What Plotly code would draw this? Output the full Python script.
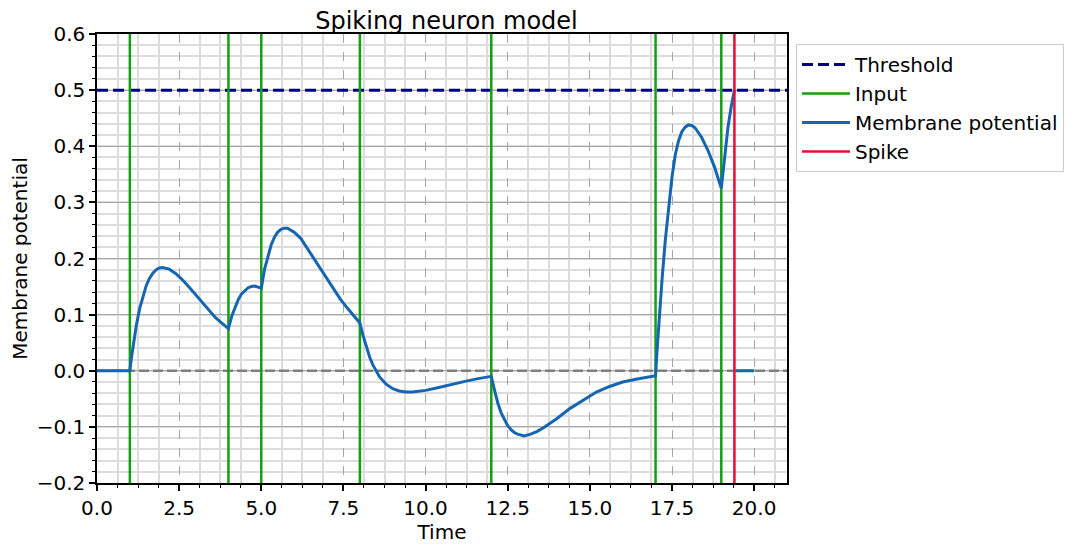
import plotly.graph_objects as go

# membrane potential
time = [0.0, 1.0, 1.05, 1.1, 1.2, 1.3, 1.4, 1.5, 1.6, 1.7, 1.8, 1.9, 2.0,
        2.2, 2.4, 2.6, 2.8, 3.0, 3.2, 3.4, 3.6, 3.8, 4.0,
        4.1, 4.2, 4.3, 4.4, 4.5, 4.6, 4.7, 4.8, 4.9, 5.0,
        5.1, 5.2, 5.3, 5.4, 5.5, 5.6, 5.7, 5.8, 5.9, 6.0,
        6.2, 6.4, 6.6, 6.8, 7.0, 7.2, 7.4, 7.6, 7.8, 8.0,
        8.1, 8.2, 8.3, 8.4, 8.5, 8.6, 8.8, 9.0, 9.2, 9.4, 9.6, 9.8, 10.0,
        10.4, 10.8, 11.2, 11.6, 12.0,
        12.1, 12.2, 12.3, 12.4, 12.5, 12.6, 12.7, 12.8, 13.0, 13.2, 13.4,
        13.6, 13.8, 14.0, 14.4, 14.8, 15.2, 15.6, 16.0, 16.4, 16.8, 17.0,
        17.05, 17.1, 17.2, 17.3, 17.4, 17.5, 17.6, 17.7, 17.8, 17.9, 18.0,
        18.1, 18.2, 18.4, 18.6, 18.8, 19.0,
        19.1, 19.2, 19.3, 19.4, None, 19.45, 20.0]
potential = [0.0, 0.0, 0.024, 0.045, 0.082, 0.111, 0.134, 0.152, 0.165, 0.174, 0.180, 0.183, 0.184,
             0.181, 0.173, 0.162, 0.149, 0.135, 0.122, 0.108, 0.095, 0.085, 0.075,
             0.097, 0.114, 0.127, 0.137, 0.143, 0.148, 0.150, 0.151, 0.149, 0.147,
             0.181, 0.205, 0.224, 0.238, 0.247, 0.252, 0.254, 0.254, 0.251, 0.247,
             0.236, 0.218, 0.200, 0.181, 0.163, 0.146, 0.128, 0.113, 0.098, 0.085,
             0.062, 0.041, 0.024, 0.010, -0.002, -0.011, -0.024, -0.032, -0.036, -0.038, -0.038, -0.037, -0.035,
             -0.030, -0.024, -0.019, -0.014, -0.010,
             -0.035, -0.058, -0.075, -0.088, -0.098, -0.105, -0.110, -0.113, -0.116, -0.113, -0.108,
             -0.101, -0.093, -0.085, -0.067, -0.052, -0.038, -0.028, -0.020, -0.015, -0.011, -0.009,
             0.040, 0.085, 0.165, 0.235, 0.295, 0.345, 0.385, 0.410, 0.426, 0.434, 0.438,
             0.437, 0.433, 0.416, 0.392, 0.362, 0.325,
             0.383, 0.432, 0.470, 0.500, None, 0.0, 0.0]

input_times = [1, 4, 5, 8, 12, 17, 19]
spike_times = [19.4]
threshold = 0.5

x_range = [0, 21]
y_range = [-0.2, 0.6]
y_ticks = [0.6, 0.5, 0.4, 0.3, 0.2, 0.1, 0.0, -0.1, -0.2]
y_ticktext = ["0.6", "0.5", "0.4", "0.3", "0.2", "0.1", "0.0", "\u22120.1", "\u22120.2"]


def vlines(times):
    xs, ys = [], []
    for t in times:
        xs += [t, t, None]
        ys += [y_range[0], y_range[1], None]
    return xs, ys


fig = go.Figure()

# dashed zero line
fig.add_trace(go.Scatter(x=x_range, y=[0, 0], mode="lines", showlegend=False,
                         hoverinfo="skip",
                         line=dict(color="#808080", width=2.5, dash="10px,4px")))

fig.add_trace(go.Scatter(x=x_range, y=[threshold, threshold], mode="lines",
                         name="Threshold",
                         line=dict(color="#000080", width=3, dash="11px,5px")))

ix, iy = vlines(input_times)
fig.add_trace(go.Scatter(x=ix, y=iy, mode="lines", name="Input",
                         line=dict(color="#12a012", width=2.5)))

fig.add_trace(go.Scatter(x=time, y=potential, mode="lines", name="Membrane potential",
                         connectgaps=False,
                         line=dict(color="#1565b0", width=3)))

sx, sy = vlines(spike_times)
fig.add_trace(go.Scatter(x=sx, y=sy, mode="lines", name="Spike",
                         line=dict(color="#e3103a", width=2.5)))

font = "DejaVu Sans, Liberation Sans, sans-serif"

# page body adds an 8px offset, so the figure is 8px smaller on each axis
fig.update_layout(
    width=1076, height=536,
    margin=dict(l=89, r=297, t=26, b=61),
    paper_bgcolor="white", plot_bgcolor="white",
    font=dict(family=font, size=20, color="black"),
    title=dict(text="Spiking neuron model", x=0.4075, xanchor="center",
               y=0.976, yanchor="middle", font=dict(size=24)),
    legend=dict(x=1.013, y=0.978, xanchor="left", yanchor="top",
                bordercolor="#cccccc", borderwidth=1, font=dict(size=20),
                itemwidth=48, tracegroupgap=0),
    showlegend=True,
)

fig.update_xaxes(
    range=x_range, dtick=2.5, tick0=0, tickformat=".1f", automargin=False,
    showline=True, linecolor="black", linewidth=1.5, mirror=True,
    ticks="outside", ticklen=6, tickwidth=1.5, tickcolor="black",
    tickfont=dict(size=20),
    showgrid=True, gridcolor="#a6a6a6", gridwidth=1, griddash="dash",
    zeroline=False,
    minor=dict(dtick=0.625, tick0=0, showgrid=True, gridcolor="#dcdcdc", gridwidth=1.5,
               griddash="solid",
               ticks="outside", ticklen=3.5, tickcolor="black", tickwidth=1),
    title=dict(text="Time", standoff=0, font=dict(size=20)),
)

fig.update_yaxes(
    range=y_range, tickvals=y_ticks, ticktext=y_ticktext, automargin=False,
    showline=True, linecolor="black", linewidth=1.5, mirror=True,
    ticks="outside", ticklen=6, tickwidth=1.5, tickcolor="black",
    tickfont=dict(size=20),
    showgrid=True, gridcolor="#a6a6a6", gridwidth=1,
    zeroline=False,
    minor=dict(dtick=0.02, tick0=0, showgrid=True, gridcolor="#dcdcdc", gridwidth=1.5,
               griddash="solid",
               ticks="outside", ticklen=3.5, tickcolor="black", tickwidth=1),
    title=dict(text="Membrane potential", standoff=14, font=dict(size=20)),
)

fig.write_html("out.html")
